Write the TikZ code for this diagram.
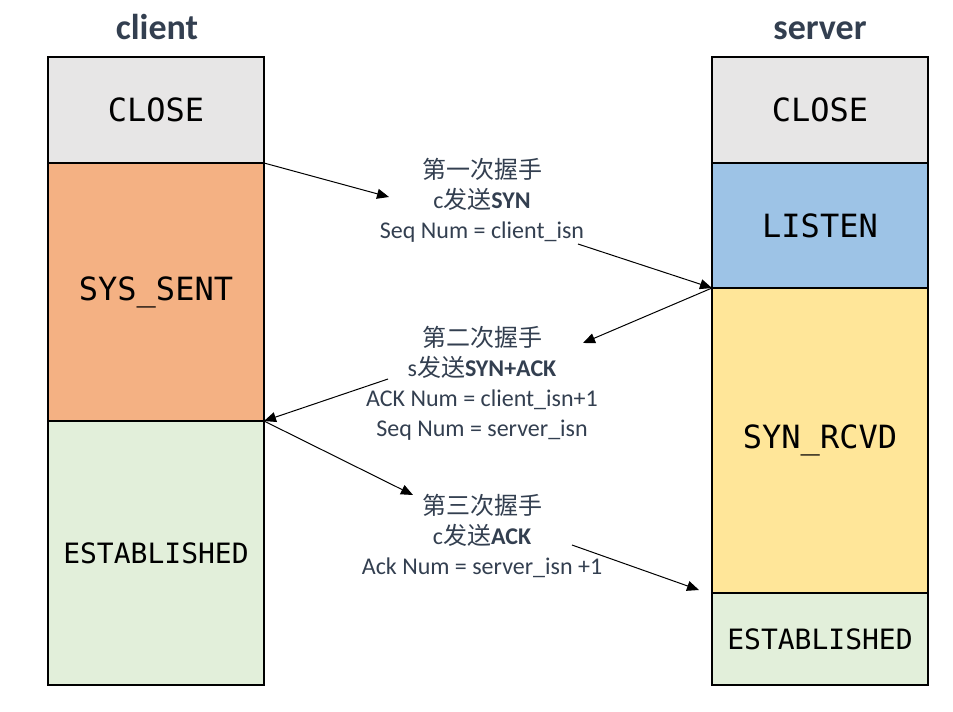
\documentclass[tikz,border=0pt]{standalone}
\usepackage{fontspec}
\setmainfont{Carlito}
\setmonofont{DejaVu Sans Mono}
\newfontfamily\cjk{Noto Sans CJK SC}
\usetikzlibrary{arrows.meta,positioning}
\definecolor{Ink}{HTML}{333F50}
\definecolor{CloseGray}{HTML}{E7E6E6}
\definecolor{SentOrange}{HTML}{F4B183}
\definecolor{EstGreen}{HTML}{E2EFDA}
\definecolor{ListenBlue}{HTML}{9DC3E6}
\definecolor{RcvdYellow}{HTML}{FFE699}
\tikzset{state/.style={draw=black,line width=1.5pt,minimum width=162pt,inner sep=0pt,outer sep=0pt,font=\ttfamily\fontsize{24}{28}\selectfont},estab/.style={state,font=\ttfamily\fontsize{21}{25}\selectfont},title/.style={anchor=base,font=\bfseries\fontsize{27}{32}\selectfont,text=Ink},msg/.style={align=center,text=Ink,font=\fontsize{18}{22.5}\selectfont},shake/.style={-{Triangle[length=9pt,width=7.5pt]},line width=.75pt}}

\begin{document}
\begin{tikzpicture}[x=0.75pt,y=-0.75pt]
\useasboundingbox (0,0) rectangle (953,711);
% column titles
\node[title] (t-client) at (157,39) {client};
\node[title] (t-server) at (820,39) {server};
% client states
\node[state,fill=CloseGray,minimum height=79.5pt,anchor=north] (c-close) at (156,57) {CLOSE};
\node[state,fill=SentOrange,minimum height=193.5pt,below=0pt of c-close] (c-sent) {SYS\_SENT};
\node[estab,fill=EstGreen,minimum height=198pt,below=0pt of c-sent] (c-est) {ESTABLISHED};
% server states
\node[state,fill=CloseGray,minimum height=79.5pt,anchor=north] (s-close) at (820,57) {CLOSE};
\node[state,fill=ListenBlue,minimum height=93.75pt,below=0pt of s-close] (s-listen) {LISTEN};
\node[state,fill=RcvdYellow,minimum height=228.75pt,below=0pt of s-listen] (s-rcvd) {SYN\_RCVD};
\node[estab,fill=EstGreen,minimum height=69pt,below=0pt of s-rcvd] (s-est) {ESTABLISHED};
% handshake messages
\node[msg] (m-one) at (482,200) {{\cjk 第一次握手}\\c{\cjk 发送}\textbf{SYN}\\Seq Num = client\_isn};
\node[msg] (m-two) at (482,383) {{\cjk 第二次握手}\\s{\cjk 发送}\textbf{SYN+ACK}\\ACK Num = client\_isn+1\\Seq Num = server\_isn};
\node[msg] (m-three) at (482,536) {{\cjk 第三次握手}\\c{\cjk 发送}\textbf{ACK}\\Ack Num = server\_isn +1};
% arrow ends beside the texts
\coordinate (a1) at (389,197);
\coordinate (b1) at (578,244);
\coordinate (a2) at (583,343);
\coordinate (b2) at (388,379);
\coordinate (a3) at (413,495);
\coordinate (b3) at (572,545);
\coordinate (e3) at (699,590);
\draw[shake] (c-close.south east) -- (a1);
\draw[shake] (b1) -- (s-listen.south west);
\draw[shake] (s-listen.south west) -- (a2);
\draw[shake] (b2) -- (c-sent.south east);
\draw[shake] (c-sent.south east) -- (a3);
\draw[shake] (b3) -- (e3);
\end{tikzpicture}
\end{document}
